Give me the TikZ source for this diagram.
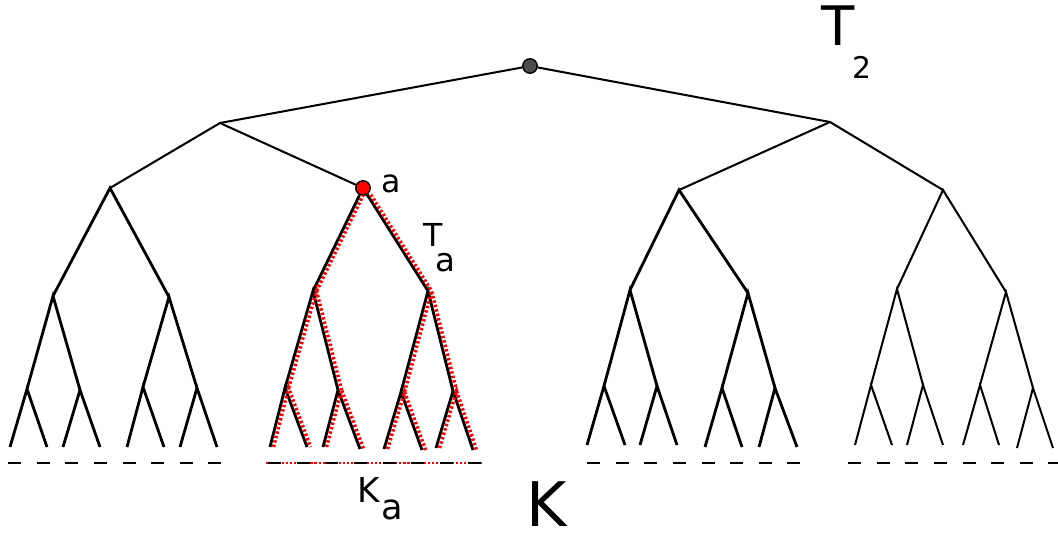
\documentclass[tikz,border=0pt]{standalone}
\usepackage{fontspec}
\setmainfont{DejaVu Sans}

\begin{document}
\begin{tikzpicture}[
    x=0.02cm, y=-0.02cm,
    edge/.style={line width=1.15pt},
    lowedge/.style={line width=1.6pt},
    subedge/.style={red, line width=2pt, dash pattern=on 1.4pt off 1.2pt},
    kdash/.style={line width=1.1pt, dash pattern=on 7.4pt off 8.9pt},
    kdot/.style={red, line width=1.5pt, dash pattern=on 1.2pt off 1.1pt},
    dot/.style={circle, draw, thick, minimum size=0.29cm, inner sep=0pt},
    lbl/.style={inner sep=0pt}
]
\useasboundingbox (0,0) rectangle (1058,539);

% ============ TREE NODES ============
\node[dot, fill=gray!60!black] (root) at (530,66) {};
\coordinate (n0) at (220,123);
\coordinate (n1) at (830,122);

\coordinate (n00) at (110,188);
\node[dot, fill=red] (n01) at (363,188) {};
\coordinate (n10) at (679,190);
\coordinate (n11) at (943,190);

\coordinate (n000) at (53,296);
\coordinate (n001) at (169,297);
\coordinate (n010) at (313,291);
\coordinate (n011) at (428,291);
\coordinate (n100) at (630,290);
\coordinate (n101) at (748,293);
\coordinate (n110) at (897,289);
\coordinate (n111) at (1006,292);

\coordinate (n0000) at (27,389);  \coordinate (n0001) at (80,390);
\coordinate (n0010) at (143,387); \coordinate (n0011) at (197,388);
\coordinate (n0100) at (285,388); \coordinate (n0101) at (338,390);
\coordinate (n0110) at (401,392); \coordinate (n0111) at (453,391);
\coordinate (n1000) at (604,386); \coordinate (n1001) at (657,386);
\coordinate (n1010) at (722,388); \coordinate (n1011) at (775,388);
\coordinate (n1100) at (871,385); \coordinate (n1101) at (923,385);
\coordinate (n1110) at (980,385); \coordinate (n1111) at (1033,388);

% leaves
\coordinate (n00000) at (10,447);  \coordinate (n00001) at (47,447);
\coordinate (n00010) at (63,447);  \coordinate (n00011) at (100,447);
\coordinate (n00100) at (127,447); \coordinate (n00101) at (164,447);
\coordinate (n00110) at (180,447); \coordinate (n00111) at (217,447);
\coordinate (n01000) at (270,447); \coordinate (n01001) at (307,447);
\coordinate (n01010) at (323,447); \coordinate (n01011) at (360,449);
\coordinate (n01100) at (384,449); \coordinate (n01101) at (422,450);
\coordinate (n01110) at (436,448); \coordinate (n01111) at (473,450);
\coordinate (n10000) at (587,445); \coordinate (n10001) at (625,445);
\coordinate (n10010) at (640,445); \coordinate (n10011) at (677,445);
\coordinate (n10100) at (705,447); \coordinate (n10101) at (742,447);
\coordinate (n10110) at (759,447); \coordinate (n10111) at (797,447);
\coordinate (n11000) at (855,445); \coordinate (n11001) at (892,445);
\coordinate (n11010) at (907,445); \coordinate (n11011) at (943,445);
\coordinate (n11100) at (963,445); \coordinate (n11101) at (999,445);
\coordinate (n11110) at (1017,448); \coordinate (n11111) at (1053,448);

% ============ TREE EDGES ============
\draw[edge] (n0) -- (root) -- (n1);
\draw[edge] (n00) -- (n0) -- (n01);
\draw[edge] (n10) -- (n1) -- (n11);

\draw[lowedge] (n000) -- (n00) -- (n001);
\draw[lowedge] (n010) -- (n01) -- (n011);
\draw[lowedge] (n100) -- (n10) -- (n101);
\draw[edge] (n110) -- (n11) -- (n111);

\draw[lowedge] (n0000) -- (n000) -- (n0001);
\draw[lowedge] (n0010) -- (n001) -- (n0011);
\draw[lowedge] (n0100) -- (n010) -- (n0101);
\draw[lowedge] (n0110) -- (n011) -- (n0111);
\draw[lowedge] (n1000) -- (n100) -- (n1001);
\draw[lowedge] (n1010) -- (n101) -- (n1011);
\draw[edge] (n1100) -- (n110) -- (n1101);
\draw[edge] (n1110) -- (n111) -- (n1111);

\draw[lowedge] (n00000) -- (n0000) -- (n00001);
\draw[lowedge] (n00010) -- (n0001) -- (n00011);
\draw[lowedge] (n00100) -- (n0010) -- (n00101);
\draw[lowedge] (n00110) -- (n0011) -- (n00111);
\draw[lowedge] (n01000) -- (n0100) -- (n01001);
\draw[lowedge] (n01010) -- (n0101) -- (n01011);
\draw[lowedge] (n01100) -- (n0110) -- (n01101);
\draw[lowedge] (n01110) -- (n0111) -- (n01111);
\draw[lowedge] (n10000) -- (n1000) -- (n10001);
\draw[lowedge] (n10010) -- (n1001) -- (n10011);
\draw[lowedge] (n10100) -- (n1010) -- (n10101);
\draw[lowedge] (n10110) -- (n1011) -- (n10111);
\draw[edge] (n11000) -- (n1100) -- (n11001);
\draw[edge] (n11010) -- (n1101) -- (n11011);
\draw[edge] (n11100) -- (n1110) -- (n11101);
\draw[edge] (n11110) -- (n1111) -- (n11111);

% ============ SUBTREE T_a ============
\begin{scope}[transform canvas={xshift=2pt}]
\draw[subedge] (n010) -- (n01) -- (n011);
\draw[subedge] (n0100) -- (n010) -- (n0101);
\draw[subedge] (n0110) -- (n011) -- (n0111);
\draw[subedge] (n01000) -- (n0100) -- (n01001);
\draw[subedge] (n01010) -- (n0101) -- (n01011);
\draw[subedge] (n01100) -- (n0110) -- (n01101);
\draw[subedge] (n01110) -- (n0111) -- (n01111);
\end{scope}

% ============ BOUNDARY K ============
\draw[kdot] (266,463) -- (482,463);
\draw[kdash] (8,463) -- (222,463);
\draw[kdash] (268,463) -- (482,463);
\draw[kdash] (587,463) -- (800,463);
\draw[kdash] (848,463) -- (1058,463);

% ============ LABELS ============
\node[lbl, font=\fontsize{31}{31}\selectfont] (t2main) at (838,26) {T};
\node[lbl, font=\fontsize{17}{17}\selectfont] (t2sub) at (862,67) {2};
\node[lbl, font=\fontsize{18}{18}\selectfont] (alabel) at (391,184) {a};
\node[lbl, font=\fontsize{18}{18}\selectfont] (tamain) at (433,235) {T};
\node[lbl, font=\fontsize{18.5}{19}\selectfont] (tasub) at (445,263) {a};
\node[lbl, font=\fontsize{19.5}{20}\selectfont] (kamain) at (369,490) {K};
\node[lbl, font=\fontsize{20}{20}\selectfont] (kasub) at (392,510) {a};
\node[lbl, font=\fontsize{35}{35}\selectfont] (kbig) at (547,504) {K};

\end{tikzpicture}
\end{document}
